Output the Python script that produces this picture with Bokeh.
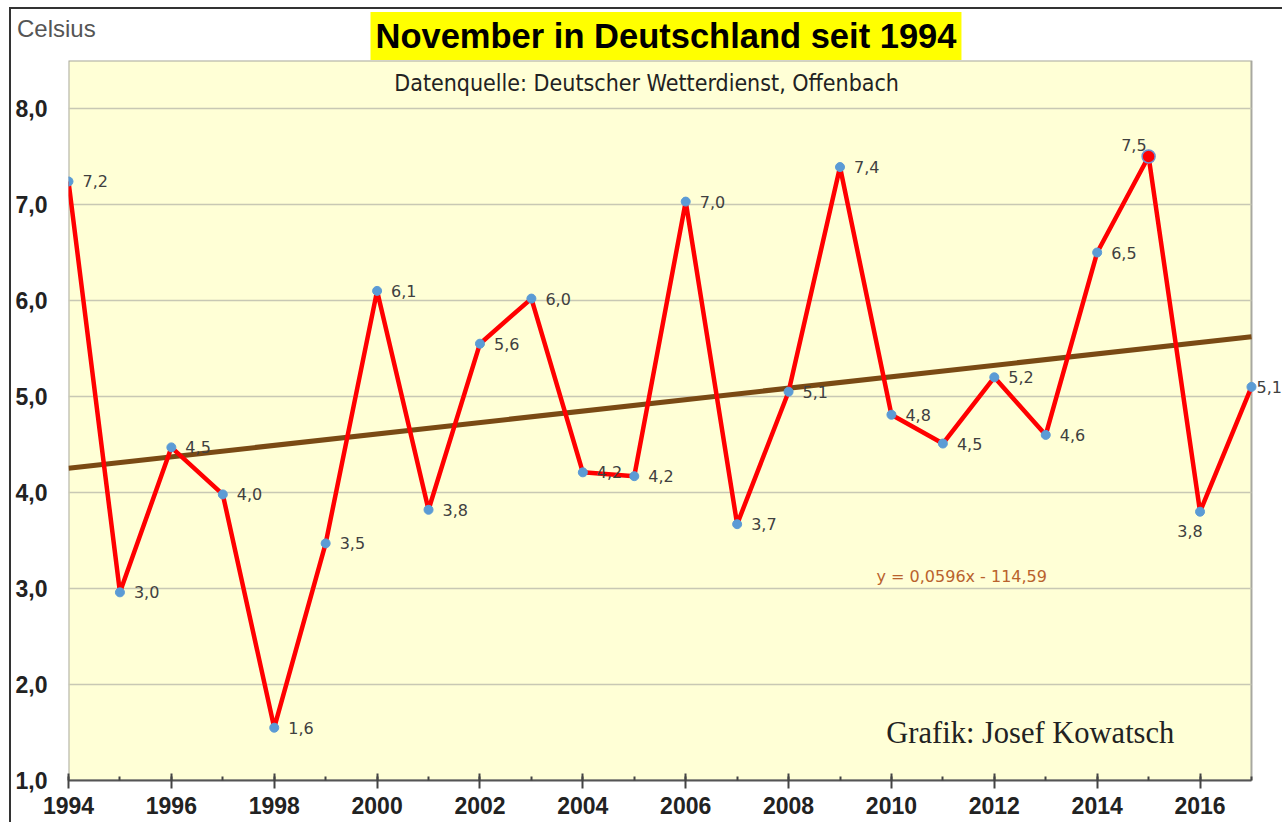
from bokeh.plotting import figure
from bokeh.models import (ColumnDataSource, LabelSet, Label, Title, SingleIntervalTicker,
                          FixedTicker, Range1d, Div)
from bokeh.layouts import column
from bokeh.core.properties import value
from bokeh.embed import file_html
from bokeh.resources import INLINE

# ---- data ----
years = list(range(1994, 2018))
temps = [7.24, 2.96, 4.47, 3.98, 1.55, 3.47, 6.10, 3.82, 5.55, 6.02, 4.21, 4.17,
         7.03, 3.67, 5.05, 7.39, 4.81, 4.51, 5.20, 4.60, 6.50, 7.50, 3.80, 5.10]
temp_labels = ["7,2", "3,0", "4,5", "4,0", "1,6", "3,5", "6,1", "3,8", "5,6", "6,0", "4,2", "4,2",
               "7,0", "3,7", "5,1", "7,4", "4,8", "4,5", "5,2", "4,6", "6,5", "7,5", "3,8", "5,1"]
trend_slope = 0.0596
trend_intercept = -114.59
trend_text = "y = 0,0596x - 114,59"
y_ticks = [1, 2, 3, 4, 5, 6, 7, 8]
y_tick_labels = ["1,0", "2,0", "3,0", "4,0", "5,0", "6,0", "7,0", "8,0"]
y_min, y_max = 1, 8.5
title_text = "November in Deutschland seit 1994"
subtitle_text = "Datenquelle: Deutscher Wetterdienst, Offenbach"
unit_text = "Celsius"
credit_text = "Grafik: Josef Kowatsch"

x_min, x_max = years[0], years[-1]

# label placement (style)
placement = {2015: "above", 2016: "below", 2017: "edge"}

# the frame extends right to the canvas edge so that the last value label is not clipped;
# the yellow plot area itself is drawn as a quad from x_min..x_max
x_pad_right = 0.642

p = figure(width=1273, height=815, output_backend="svg", toolbar_location=None,
           x_range=Range1d(x_min, x_max + x_pad_right), y_range=Range1d(y_min, y_max),
           min_border_left=57, min_border_right=0, min_border_top=49, min_border_bottom=44,
           background_fill_color="white", border_fill_color="white",
           outline_line_color=None)
p.styles = {"margin-left": "9px", "margin-top": "7px",
            "border-left": "2px solid #333333", "border-top": "2px solid #333333"}

t = Title(text=title_text, align="left", text_font="Liberation Sans",
          text_font_size="34.5px", text_font_style="bold", text_color="black",
          background_fill_color="#ffff00", standoff=1, padding=5, offset=302)
p.add_layout(t, "above")

# plot area
p.quad(left=[x_min], right=[x_max], bottom=[y_min], top=[y_max],
       fill_color="#ffffd6", line_color="#a8a8a0", line_width=2)

# grid (drawn across the plot area only)
p.xgrid.grid_line_color = None
p.ygrid.grid_line_color = None
p.segment(x0=[x_min] * len(y_ticks), x1=[x_max] * len(y_ticks), y0=y_ticks, y1=y_ticks,
          line_color="#c8c8b4", line_width=1.5)

# axes
p.xaxis.ticker = SingleIntervalTicker(interval=2, num_minor_ticks=2)
p.xaxis.bounds = (x_min, x_max)
p.xaxis.axis_line_color = "#555555"
p.xaxis.axis_line_width = 2
p.xaxis.major_tick_line_color = "#444444"
p.xaxis.major_tick_line_width = 2
p.xaxis.major_tick_in = 7
p.xaxis.major_tick_out = 8
p.xaxis.minor_tick_line_color = "#444444"
p.xaxis.minor_tick_line_width = 2
p.xaxis.minor_tick_in = 4
p.xaxis.minor_tick_out = 0
p.xaxis.major_label_text_font = "Liberation Sans"
p.xaxis.major_label_text_font_style = "bold"
p.xaxis.major_label_text_font_size = "23px"
p.xaxis.major_label_text_color = "#222222"
p.xaxis.major_label_standoff = 8

p.yaxis.ticker = FixedTicker(ticks=y_ticks)
p.yaxis.major_label_overrides = {tk: lb for tk, lb in zip(y_ticks, y_tick_labels)}
p.yaxis.axis_line_color = None
p.yaxis.major_tick_line_color = None
p.yaxis.minor_tick_line_color = None
p.yaxis.major_tick_in = 0
p.yaxis.major_tick_out = 0
p.yaxis.minor_tick_in = 0
p.yaxis.minor_tick_out = 0
p.yaxis.major_label_text_font = "Liberation Sans"
p.yaxis.major_label_text_font_style = "bold"
p.yaxis.major_label_text_font_size = "23px"
p.yaxis.major_label_text_color = "#222222"
p.yaxis.major_label_standoff = 21

# trend line
tx = [x_min, x_max]
ty = [trend_slope * x + trend_intercept for x in tx]
p.line(tx, ty, line_color="#7a4a14", line_width=5)

# data line + markers
src = ColumnDataSource(dict(x=years, y=temps, lab=temp_labels))
p.line("x", "y", source=src, line_color="#ff0000", line_width=4.5)
p.scatter("x", "y", source=src, size=9, fill_color="#5b9bd5", line_color="#5b9bd5")
imax = max(range(len(temps)), key=lambda i: temps[i])
p.scatter([years[imax]], [temps[imax]], size=13, fill_color="#ff0000", line_color="#6f8fd0", line_width=1.5)

# value labels
groups = {"right": dict(x_offset=14, y_offset=0, align="left"),
          "edge": dict(x_offset=5, y_offset=0, align="left"),
          "above": dict(x_offset=-2, y_offset=12, align="right"),
          "below": dict(x_offset=-10, y_offset=-19, align="center")}
for g, st in groups.items():
    idx = [i for i, yr in enumerate(years) if placement.get(yr, "right") == g]
    s = ColumnDataSource(dict(x=[years[i] for i in idx], y=[temps[i] for i in idx],
                              lab=[temp_labels[i] for i in idx]))
    ls = LabelSet(x="x", y="y", text="lab", source=s, x_offset=st["x_offset"], y_offset=st["y_offset"],
                  text_align=st["align"], text_baseline="middle", text_font=value("DejaVu Sans"),
                  text_font_size="16px", text_color="#404040")
    p.add_layout(ls)

p.add_layout(Label(x=2005.24, y=8.27, text=subtitle_text, text_align="center", text_baseline="middle",
                   text_font="DejaVu Sans Condensed, Liberation Sans", text_font_size="23px",
                   text_color="#222222"))
p.add_layout(Label(x=2009.71, y=3.12, text=trend_text, text_align="left", text_baseline="middle",
                   text_font="DejaVu Sans", text_font_size="16px", text_color="#b9622d"))
p.add_layout(Label(x=2009.9, y=1.49, text=credit_text, text_align="left", text_baseline="middle",
                   text_font="Liberation Serif", text_font_size="30.5px", text_color="#222222"))

# unit caption in the top-left corner, outside the plot frame
unit_div = Div(text=unit_text,
               styles={"position": "absolute", "left": "12px", "top": "10px", "z-index": "10",
                       "font-family": "Liberation Sans", "font-size": "24px", "color": "#555555",
                       "line-height": "27px", "white-space": "nowrap"})

layout = column(p, unit_div)
open("out.html", "w").write(file_html(layout, INLINE))
